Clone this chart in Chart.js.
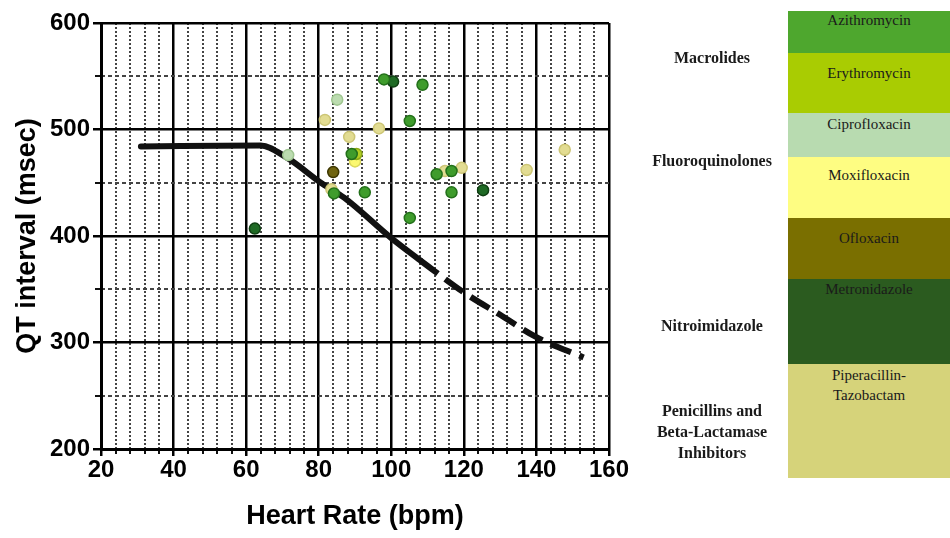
<!DOCTYPE html>
<html>
<head>
<meta charset="utf-8">
<script src="https://cdn.jsdelivr.net/npm/chart.js@4.4.1/dist/chart.umd.min.js"></script>
<style>
html,body{margin:0;padding:0;background:#fff;}
body{width:950px;height:538px;position:relative;overflow:hidden;}
#wrap{position:absolute;left:0;top:0;width:640px;height:538px;}
.blk{position:absolute;left:788px;width:162px;}
.blk span{position:absolute;left:0;right:0;text-align:center;font-family:"Liberation Serif","Times New Roman",serif;font-size:15px;color:#1a1a1a;line-height:20px;}
.grp{position:absolute;left:632px;width:160px;text-align:center;font-family:"Liberation Serif","Times New Roman",serif;font-weight:bold;font-size:16px;line-height:21px;color:#1a1a1a;}
</style>
</head>
<body>
<div id="wrap"><canvas id="c" width="640" height="538"></canvas></div>
<div id="legend"></div>
<script>
// ---------- data ----------
const xTicks = [20, 40, 60, 80, 100, 120, 140, 160];
const yTicks = [200, 300, 400, 500, 600];

const azithromycinHR = [92.7, 98.0, 108.6, 105.1, 89.1, 84.2, 92.7, 105.1, 112.5, 116.6, 116.6];
const azithromycinQT = [607, 547, 542, 508, 477, 440, 441, 417, 458, 461, 441];

const erythromycinHR = [90.4];
const erythromycinQT = [477];

const ciprofloxacinHR = [85.1, 71.6];
const ciprofloxacinQT = [528, 476];

const moxifloxacinHR = [90.0];
const moxifloxacinQT = [470];

const ofloxacinHR = [84.0];
const ofloxacinQT = [460];

const metronidazoleHR = [100.5, 125.3, 62.4];
const metronidazoleQT = [545, 443, 407];

const piperacillinHR = [81.7, 96.6, 88.4, 83.5, 114.8, 119.4, 137.3, 147.8];
const piperacillinQT = [509, 501, 493, 444, 461, 464, 462, 481];

const nomogramSolidHR = [31, 64, 71, 81, 87, 100, 108];
const nomogramSolidQT = [484, 485, 474, 449, 436, 398, 377];
const nomogramDashedHR = [108, 120, 130, 140, 153];
const nomogramDashedQT = [377, 347, 326, 305, 286];

const drugNames = ['Azithromycin', 'Erythromycin', 'Ciprofloxacin', 'Moxifloxacin', 'Ofloxacin', 'Metronidazole', 'Piperacillin-\nTazobactam'];
const classNames = ['Macrolides', 'Fluoroquinolones', 'Nitroimidazole', 'Penicillins and\nBeta-Lactamase\nInhibitors'];

// ---------- styles / layout ----------
const legendColors = ['#4ea72e', '#a9cc02', '#b8dbb0', '#fefd82', '#7a6f00', '#2b5b1f', '#d6d37a'];
const legendTops = [11, 53, 113, 157, 218, 279, 364, 478];
const legendTextOffsets = [-1, 10, 1, 8, 10, 0, 1];
const classCenters = [57, 160, 325, 431];

const pointFill = ['#3f9c2c', '#b3cf22', '#bcdcb0', '#fbf870', '#6f6410', '#1f6a25', '#e2dc92'];
const pointBorder = ['#23701a', '#8aa818', '#9fc690', '#dcd85a', '#3c3600', '#0f3f12', '#cdc676'];

function pts(xs, ys) { return xs.map((x, i) => ({x: x, y: ys[i]})); }

const seriesX = [azithromycinHR, erythromycinHR, ciprofloxacinHR, moxifloxacinHR, ofloxacinHR, metronidazoleHR, piperacillinHR];
const seriesY = [azithromycinQT, erythromycinQT, ciprofloxacinQT, moxifloxacinQT, ofloxacinQT, metronidazoleQT, piperacillinQT];

const datasets = seriesX.map((xs, i) => ({
  type: 'scatter',
  label: drugNames[i],
  data: pts(xs, seriesY[i]),
  backgroundColor: pointFill[i],
  borderColor: pointBorder[i],
  borderWidth: 1.5,
  pointRadius: 5.5,
  clip: false,
  order: 1,
  xAxisID: 'x', yAxisID: 'y'
}));

datasets.push({
  type: 'line', label: 'nomogram', data: pts(nomogramSolidHR, nomogramSolidQT),
  borderColor: '#111', borderWidth: 6, pointRadius: 0, fill: false,
  cubicInterpolationMode: 'monotone', borderCapStyle: 'round', borderJoinStyle: 'round',
  order: 5, xAxisID: 'x', yAxisID: 'y'
});
datasets.push({
  type: 'line', label: 'nomogram2', data: pts(nomogramDashedHR, nomogramDashedQT),
  borderColor: '#111', borderWidth: 6, pointRadius: 0, fill: false, borderDash: [22, 9],
  cubicInterpolationMode: 'monotone', borderCapStyle: 'butt',
  order: 5, xAxisID: 'x', yAxisID: 'y'
});

const FAM = '"Liberation Sans", Arial, sans-serif';
const CLEAR = 'rgba(0,0,0,0)';

new Chart(document.getElementById('c'), {
  type: 'scatter',
  data: { datasets: datasets },
  options: {
    responsive: false,
    animation: false,
    devicePixelRatio: 1,
    layout: { padding: { top: 23, right: 31, bottom: 0, left: 0 } },
    plugins: { legend: { display: false }, tooltip: { enabled: false } },
    scales: {
      x2: {
        type: 'linear', position: 'bottom', min: xTicks[0], max: xTicks[xTicks.length - 1], weight: 0,
        ticks: { display: false, stepSize: 4 },
        grid: {
          color: c => (c.tick && c.tick.value % 20 === 0) ? CLEAR : '#444',
          lineWidth: 2, drawTicks: true, tickLength: 5,
          tickColor: c => (c.tick && c.tick.value % 20 === 0) ? CLEAR : '#111', tickWidth: 2
        },
        border: { display: false, dash: [2, 2] },
        afterFit: s => { s.height = 0; }
      },
      x: {
        type: 'linear', position: 'bottom', min: xTicks[0], max: xTicks[xTicks.length - 1], weight: 1,
        afterBuildTicks: s => { s.ticks = xTicks.map(v => ({value: v})); },
        ticks: { color: '#000', font: { family: FAM, size: 24, weight: 'bold' }, padding: 0, maxRotation: 0, autoSkip: false },
        grid: { color: '#000', lineWidth: 2.5, drawTicks: true, tickLength: 7, tickColor: '#000', tickWidth: 2.5 },
        border: { display: true, color: '#000', width: 3 },
        title: { display: true, text: 'Heart Rate (bpm)', color: '#000', font: { family: FAM, size: 27, weight: 'bold' }, padding: { top: 0, bottom: 5 } },
        afterFit: s => { s.height = 89; }
      },
      y2: {
        type: 'linear', position: 'left', min: yTicks[0], max: yTicks[yTicks.length - 1], weight: 0,
        ticks: { display: false, stepSize: 50 },
        grid: {
          color: c => (c.tick && c.tick.value % 100 === 0) ? CLEAR : '#444',
          lineWidth: 2, drawTicks: true, tickLength: 6,
          tickColor: c => (c.tick && c.tick.value % 100 === 0) ? CLEAR : '#111', tickWidth: 2
        },
        border: { display: false, dash: [4, 3] },
        afterFit: s => { s.width = 0; }
      },
      y: {
        type: 'linear', position: 'left', min: yTicks[0], max: yTicks[yTicks.length - 1], weight: 1,
        afterBuildTicks: s => { s.ticks = yTicks.map(v => ({value: v})); },
        ticks: { color: '#000', font: { family: FAM, size: 24, weight: 'bold' }, padding: 3 },
        grid: { color: '#000', lineWidth: 2.5, drawTicks: true, tickLength: 8, tickColor: '#000', tickWidth: 2.5 },
        border: { display: true, color: '#000', width: 3 },
        title: { display: true, text: 'QT interval (msec)', color: '#000', font: { family: FAM, size: 27, weight: 'bold' }, padding: { top: 11, bottom: 0 } },
        afterFit: s => { s.width = 101; }
      }
    }
  }
});

// ---------- legend (HTML) ----------
const lg = document.getElementById('legend');
drugNames.forEach((name, i) => {
  const d = document.createElement('div');
  d.className = 'blk';
  d.style.top = legendTops[i] + 'px';
  d.style.height = (legendTops[i + 1] - legendTops[i]) + 'px';
  d.style.background = legendColors[i];
  name.split('\n').forEach((line, j) => {
    const s = document.createElement('span');
    s.textContent = line;
    s.style.top = (legendTextOffsets[i] + j * 20) + 'px';
    d.appendChild(s);
  });
  lg.appendChild(d);
});
classNames.forEach((name, i) => {
  const lines = name.split('\n');
  const d = document.createElement('div');
  d.className = 'grp';
  d.style.top = (classCenters[i] - lines.length * 21 / 2) + 'px';
  d.innerHTML = lines.map(l => l.replace(/&/g, '&amp;')).join('<br>');
  lg.appendChild(d);
});
</script>
</body>
</html>
